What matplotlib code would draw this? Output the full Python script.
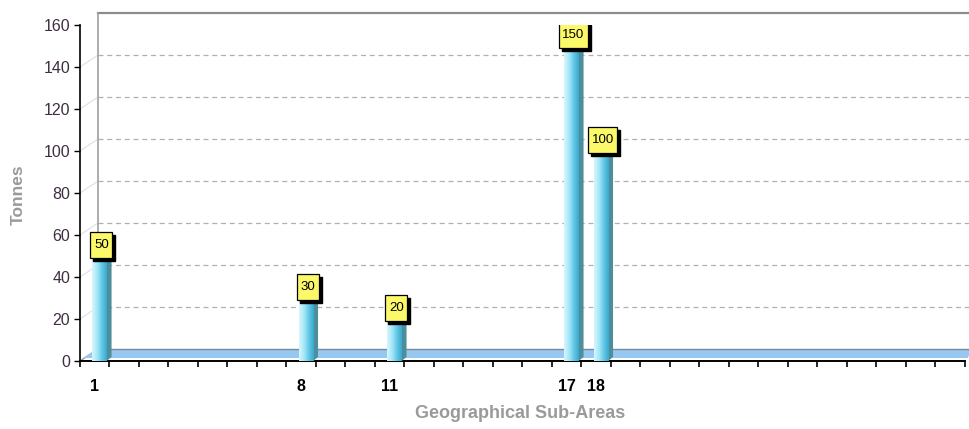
import numpy as np
import matplotlib
matplotlib.use("Agg")
import matplotlib.pyplot as plt
from matplotlib.patches import Polygon, Rectangle
from matplotlib.transforms import IdentityTransform, ScaledTranslation

# data
areas = [1, 8, 11, 17, 18]
tonnes = [50, 30, 20, 150, 100]
n_areas = 30
y_ticks = [0, 20, 40, 60, 80, 100, 120, 140, 160]

plt.rcParams['font.family'] = ['Liberation Sans', 'DejaVu Sans']

DPI = 100
fig = plt.figure(figsize=(9.7, 4.29), dpi=DPI)
ax = fig.add_axes([80 / 970, 68 / 429, 885 / 970, 336 / 429])
ax.set_xlim(0.5, n_areas + 0.5)
ax.set_ylim(0, 160)

# 3D depth offset of the back wall, in pixels
DX, DY = 18, 12


def shifted(dx, dy):
    return ax.transData + ScaledTranslation(dx / DPI, dy / DPI, fig.dpi_scale_trans)


def px(x, y, dx=0, dy=0):
    p = ax.transData.transform((x, y))
    return (p[0] + dx, p[1] + dy)


ident = IdentityTransform()

# back wall: dashed grid, top and left edges
back = shifted(DX, DY)
for v in y_ticks[1:-1]:
    ax.plot([0.5, n_areas + 1], [v, v], transform=back, color='#b0b0b0',
            lw=0.9, ls=(0, (4, 3)), clip_on=False, zorder=1)
    a, b = px(0.5, v), px(0.5, v, DX, DY)
    ax.add_line(plt.Line2D([a[0], b[0]], [a[1], b[1]], transform=ident,
                           color='#e0e0e0', lw=0.8, zorder=1))
ax.plot([0.5, n_areas + 1], [160, 160], transform=back, color='#8c8c8c',
        lw=1.6, clip_on=False, zorder=1)
ax.plot([0.5, 0.5], [0, 160], transform=back, color='#a0a0a0',
        lw=1.2, clip_on=False, zorder=1)
a, b = px(0.5, 160), px(0.5, 160, DX, DY)
ax.add_line(plt.Line2D([a[0], b[0]], [a[1], b[1]], transform=ident,
                       color='#8c8c8c', lw=1.0, zorder=1))
a, b = px(0.5, 0), px(0.5, 0, DX, DY)
ax.add_line(plt.Line2D([a[0], b[0]], [a[1], b[1]], transform=ident,
                       color='#9a9a9a', lw=1.0, zorder=2))

# floor slab
floor = [px(0.5, 0, 3, 3), px(n_areas + 0.5, 0, 3, 3),
         px(n_areas + 0.5, 0, 6, DY), px(0.5, 0, DX, DY)]
ax.add_patch(Polygon(floor, closed=True, transform=ident, facecolor='#96c8f2',
                     edgecolor='none', zorder=2, clip_on=False))
top_a, top_b = px(0.5, 0, DX, DY), px(n_areas + 0.5, 0, 6, DY)
ax.add_line(plt.Line2D([top_a[0], top_b[0]], [top_a[1], top_b[1]],
                       transform=ident, color='#7a8a9a', lw=1.0, zorder=2,
                       clip_on=False))

# bars: gradient front face + dark side face
grad = np.linspace(0, 1, 64).reshape(1, -1)
cmap = matplotlib.colors.LinearSegmentedColormap.from_list(
    'cy', ['#d6f6ff', '#a8e8f8', '#62c8e6', '#3aa8cc'])
x0, x1 = -0.08, 0.40
for x, v in zip(areas, tonnes):
    bar = ax.bar(x + x0, v, width=x1 - x0, align='edge', color='#7fd6ee',
                 edgecolor='none', zorder=4)[0]
    im = ax.imshow(grad, extent=(x + x0, x + x1, 0, v), aspect='auto',
                   cmap=cmap, zorder=4.5)
    im.set_clip_path(bar)
    side = [px(x + x1, 0), px(x + x1, 0, 5, 4), px(x + x1, v, 5, 4), px(x + x1, v)]
    ax.add_patch(Polygon(side, closed=True, transform=ident,
                         facecolor='#4d8e9c', edgecolor='none', zorder=4))
    # value label: yellow box with black drop shadow
    cx, cy = px(x + (x0 + x1) / 2, v, 2, 11)
    w, h = 7 * len(str(v)) + 8, 26
    ax.add_patch(Rectangle((cx - w / 2 + 3, cy - h / 2 - 3), w, h, transform=ident,
                           facecolor='black', edgecolor='black', zorder=6))
    ax.add_patch(Rectangle((cx - w / 2, cy - h / 2), w, h, transform=ident,
                           facecolor='#fbf86a', edgecolor='black', lw=0.9, zorder=7))
    ax.text(cx, cy, str(v), transform=ident, ha='center', va='center',
            fontsize=9.5, color='black', zorder=8)

ax.set_xticks(areas)
ax.set_xticklabels([str(a) for a in areas], fontweight='bold', fontsize=11.5)
ax.set_xticks(np.arange(0.5, n_areas + 1, 1), minor=True)
ax.tick_params(axis='x', which='major', length=0, pad=13, colors='black')
ax.tick_params(axis='x', which='minor', length=4, width=1.2, color='black')
ax.set_yticks(y_ticks)
ax.tick_params(axis='y', length=4, width=1.0, labelsize=11.5, labelcolor='#3e2e40', pad=3)

for s in ['top', 'right']:
    ax.spines[s].set_visible(False)
ax.spines['left'].set_color('black')
ax.spines['bottom'].set_color('black')
ax.spines['left'].set_linewidth(1.2)
ax.spines['bottom'].set_linewidth(1.4)
ax.set_facecolor('none')

fig.text(18 / 970, 1 - 195 / 429, 'Tonnes', rotation=90, ha='center', va='center',
         fontsize=12.5, fontweight='bold', color='#9a9a9a')
fig.text(520 / 970, 1 - 413 / 429, 'Geographical Sub-Areas', ha='center', va='center',
         fontsize=13, fontweight='bold', color='#9a9a9a')

fig.savefig('out.png', dpi=DPI)
